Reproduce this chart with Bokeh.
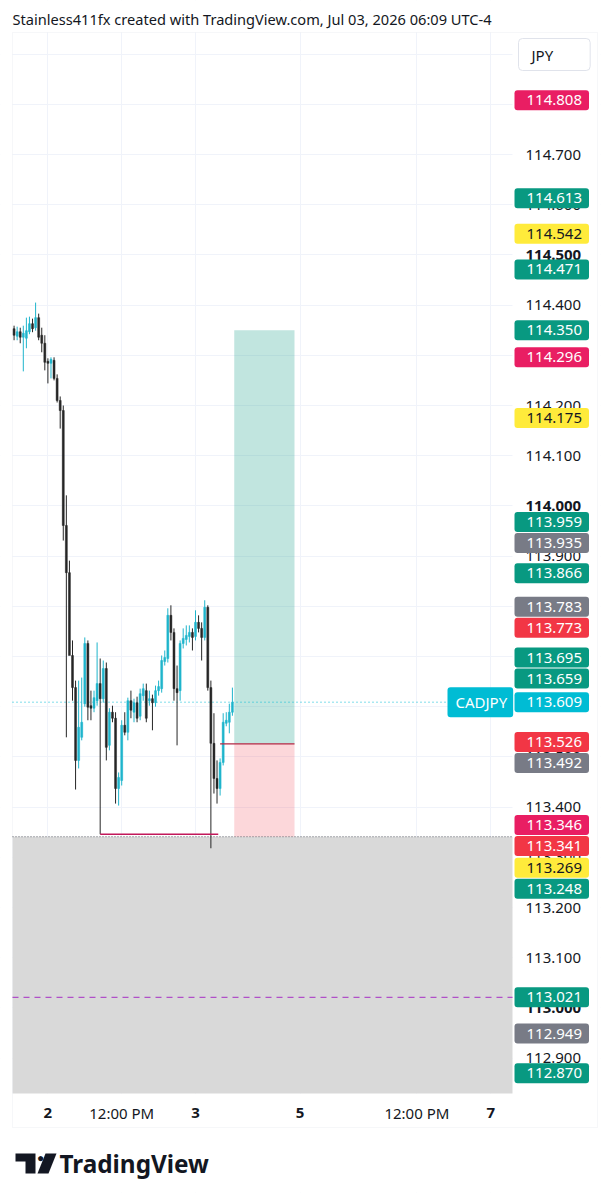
import pandas as pd
from bokeh.plotting import figure
from bokeh.models import (Label, BoxAnnotation, PolyAnnotation, FixedTicker,
                          NumeralTickFormatter, ColumnDataSource)
from bokeh.embed import file_html
from bokeh.resources import INLINE

# ---------------- data ----------------
title_text = "Stainless411fx created with TradingView.com, Jul 03, 2026 06:09 UTC-4"
brand = "TradingView"
symbol = "CADJPY"
currency = "JPY"
first_bar = "2026-07-01 18:30"
bar_freq = "30min"
session_ref = "2026-07-03 00:00"

opens = [114.353, 114.338, 114.347, 114.336, 114.334, 114.347, 114.363, 114.355, 114.375, 114.340,
         114.324, 114.288, 114.284, 114.290, 114.254, 114.210, 114.190, 113.961, 113.867, 113.702,
         113.638, 113.493, 113.539, 113.606, 113.726, 113.602, 113.597, 113.612, 113.646, 113.616,
         113.676, 113.523, 113.589, 113.577, 113.437, 113.453, 113.563, 113.549, 113.612, 113.589,
         113.608, 113.581, 113.622, 113.632, 113.612, 113.616, 113.608, 113.632, 113.636, 113.690,
         113.696, 113.782, 113.748, 113.636, 113.632, 113.726, 113.734, 113.740, 113.748, 113.740,
         113.768, 113.756, 113.738, 113.798, 113.638, 113.527, 113.457, 113.437, 113.489, 113.567,
         113.569, 113.589]
highs = [114.359, 114.357, 114.355, 114.359, 114.375, 114.377, 114.373, 114.405, 114.383, 114.355,
         114.340, 114.294, 114.296, 114.296, 114.262, 114.218, 114.200, 114.021, 113.891, 113.732,
         113.652, 113.652, 113.658, 113.738, 113.732, 113.632, 113.632, 113.728, 113.696, 113.692,
         113.688, 113.597, 113.602, 113.589, 113.469, 113.573, 113.589, 113.618, 113.632, 113.616,
         113.620, 113.636, 113.646, 113.646, 113.632, 113.624, 113.642, 113.652, 113.702, 113.712,
         113.796, 113.802, 113.756, 113.682, 113.732, 113.756, 113.762, 113.762, 113.756, 113.792,
         113.782, 113.768, 113.812, 113.802, 113.652, 113.587, 113.493, 113.497, 113.587, 113.589,
         113.606, 113.638]
lows = [114.330, 114.330, 114.324, 114.268, 114.314, 114.342, 114.346, 114.349, 114.330, 114.306,
        114.270, 114.244, 114.254, 114.250, 114.206, 114.154, 113.931, 113.539, 113.732, 113.612,
        113.435, 113.477, 113.533, 113.600, 113.573, 113.573, 113.589, 113.602, 113.346, 113.608,
        113.493, 113.513, 113.569, 113.407, 113.403, 113.443, 113.543, 113.533, 113.577, 113.569,
        113.569, 113.573, 113.612, 113.569, 113.602, 113.553, 113.600, 113.622, 113.628, 113.682,
        113.688, 113.732, 113.612, 113.523, 113.612, 113.716, 113.722, 113.728, 113.712, 113.732,
        113.748, 113.692, 113.732, 113.632, 113.318, 113.427, 113.407, 113.423, 113.483, 113.561,
        113.547, 113.582]
closes = [114.340, 114.347, 114.336, 114.344, 114.349, 114.363, 114.353, 114.375, 114.336, 114.324,
          114.286, 114.284, 114.292, 114.254, 114.210, 114.190, 113.961, 113.867, 113.702, 113.638,
          113.493, 113.559, 113.569, 113.726, 113.599, 113.597, 113.618, 113.646, 113.616, 113.676,
          113.519, 113.589, 113.577, 113.437, 113.459, 113.563, 113.549, 113.612, 113.593, 113.608,
          113.577, 113.626, 113.636, 113.577, 113.616, 113.608, 113.632, 113.640, 113.692, 113.698,
          113.782, 113.748, 113.636, 113.628, 113.726, 113.736, 113.742, 113.748, 113.738, 113.768,
          113.756, 113.738, 113.798, 113.638, 113.527, 113.457, 113.437, 113.489, 113.569, 113.573,
          113.589, 113.609]

# time axis (hours from Jul 3 00:00, weekend removed)
time_tick_hours = [-24, -12, 0, 17, 36, 48]
time_tick_labels = ["2", "12:00 PM", "3", "5", "12:00 PM", "7"]
time_tick_bold = [True, False, True, True, False, True]

price_ticks = [112.9, 113.0, 113.1, 113.2, 113.3, 113.4, 113.5, 113.6, 113.7, 113.8,
               113.9, 114.0, 114.1, 114.2, 114.3, 114.4, 114.5, 114.6, 114.7, 114.8, 114.9]
bold_price_ticks = [113.0, 114.0, 114.5]

tag_prices = [114.808, 114.613, 114.542, 114.471, 114.350, 114.296, 114.175, 113.959, 113.935,
              113.866, 113.783, 113.773, 113.695, 113.659, 113.609, 113.526, 113.492, 113.346,
              113.341, 113.269, 113.248, 113.021, 112.949, 112.870]
tag_kinds = ["pink", "green", "yellow", "green", "green", "pink", "yellow", "green", "gray",
             "green", "gray", "red", "green", "green", "cyan", "red", "gray", "pink",
             "red", "yellow", "green", "green", "gray", "green"]

current_price = 113.609
level_price = 113.346
level_start, level_end = -15.5, 3.7
zone_top = 113.341
dashed_level = 113.021
pos_entry, pos_target, pos_stop = 113.526, 114.350, 113.341
pos_start, pos_end = 6.3, 16.1
entry_line_start = 4.0

# ---------------- style / layout ----------------
KIND_COLORS = {"pink": "#e91e63", "green": "#089981", "yellow": "#ffeb3b", "gray": "#787b86",
               "red": "#f23645", "cyan": "#00bcd4"}
UP, DOWN = "#1fb5cc", "#262626"
TXT = "#131722"
BORDER = "#e0e3eb"
FONT = "Noto Sans"

# the frame covers the whole picture; pixel helpers map page pixels to data
FW, FH = 600, 1192
PX_PER_H, ZERO_PX = 6.15, 195.0
PX_PER_PRICE, ANCHOR_PRICE, ANCHOR_PX = 502.0, 114.7, 154.0
X0 = -ZERO_PX / PX_PER_H
X1 = X0 + FW / PX_PER_H
Y1 = ANCHOR_PRICE + ANCHOR_PX / PX_PER_PRICE
Y0 = Y1 - FH / PX_PER_PRICE

PANE_L, PANE_R, PANE_T, PANE_B = 12, 597, 32, 1127
PLOT_R, PLOT_B = 512, 1093


def xd(px):
    return X0 + px / PX_PER_H


def yd(py):
    return Y1 - py / PX_PER_PRICE


def py_of(price):
    return (Y1 - price) * PX_PER_PRICE


times = (pd.date_range(first_bar, periods=len(opens), freq=bar_freq)
         - pd.Timestamp(session_ref)) / pd.Timedelta(hours=1)

src = ColumnDataSource(dict(
    t=list(times), o=opens, h=highs, l=lows, c=closes,
    top=[max(a, b) for a, b in zip(opens, closes)],
    bottom=[min(a, b) for a, b in zip(opens, closes)],
    color=[UP if c >= o else DOWN for o, c in zip(opens, closes)],
))

p = figure(frame_width=FW, frame_height=FH, x_range=(X0, X1), y_range=(Y0, Y1),
           y_axis_location="right", output_backend="svg", toolbar_location=None,
           min_border_left=0, min_border_top=0, min_border_right=4, min_border_bottom=4,
           background_fill_color="white", border_fill_color="white",
           outline_line_color=None)

# axes: drawn from the frame edges back into the price / time scale areas
p.yaxis.ticker = FixedTicker(ticks=[t for t in price_ticks if t not in bold_price_ticks])
p.yaxis.formatter = NumeralTickFormatter(format="0.000")
p.xaxis.ticker = FixedTicker(ticks=[h for h, b in zip(time_tick_hours, time_tick_bold) if not b])
p.xaxis.major_label_overrides = {h: s for h, s, b in zip(time_tick_hours, time_tick_labels, time_tick_bold) if not b}
for ax in (p.xaxis[0], p.yaxis[0]):
    ax.major_label_text_font = FONT
    ax.major_label_text_font_size = "15px"
    ax.major_label_text_color = TXT
    ax.major_tick_line_color = None
    ax.minor_tick_line_color = None
    ax.major_tick_out = 0
    ax.major_tick_in = 0
    ax.axis_line_color = None
p.yaxis.major_label_standoff = 525 - FW
p.xaxis.major_label_standoff = 1102 - FH

p.ygrid.ticker = FixedTicker(ticks=price_ticks)
p.xgrid.ticker = FixedTicker(ticks=time_tick_hours)
p.grid.grid_line_color = "#f0f3fa"

# white masks so that the grid only shows inside the chart area
for l, r, t, b in [(0, PANE_L, 0, FH), (0, FW, 0, PANE_T), (PLOT_R, FW, 0, FH), (0, FW, PLOT_B, FH)]:
    p.add_layout(BoxAnnotation(left=xd(l), right=xd(r), top=yd(t), bottom=yd(b),
                               fill_color="white", fill_alpha=1, line_color=None, level="underlay"))

# gray zone below the level
p.add_layout(BoxAnnotation(left=xd(PANE_L), right=xd(PLOT_R), top=zone_top, bottom=yd(PLOT_B),
                           fill_color="#d9d9d9", fill_alpha=1, line_color=None, level="underlay"))
# position tool
p.add_layout(BoxAnnotation(left=pos_start, right=pos_end, top=pos_target, bottom=pos_entry,
                           fill_color="#089981", fill_alpha=0.25, line_color=None, level="underlay"))
p.add_layout(BoxAnnotation(left=pos_start, right=pos_end, top=pos_entry, bottom=pos_stop,
                           fill_color="#f23645", fill_alpha=0.2, line_color=None, level="underlay"))
# pane border
p.add_layout(BoxAnnotation(left=xd(PANE_L), right=xd(PANE_R), top=yd(PANE_T), bottom=yd(PANE_B),
                           fill_alpha=0, line_color=BORDER, line_width=1, level="underlay"))

# horizontal lines across the chart area
xl, xr = xd(PANE_L), xd(PLOT_R)
p.segment(x0=[xl], y0=[zone_top], x1=[xr], y1=[zone_top], line_color="#5d606b",
          line_dash="1 2", line_width=1)
p.segment(x0=[xl], y0=[dashed_level], x1=[xr], y1=[dashed_level], line_color="#b04fc8",
          line_dash="6 5", line_width=1.2)
p.segment(x0=[xl], y0=[current_price], x1=[xr], y1=[current_price], line_color="#00bcd4",
          line_dash="1 3", line_width=1)

# candles
p.segment(x0="t", y0="h", x1="t", y1="l", line_color="color", line_width=1, source=src)
p.vbar(x="t", width=0.32, top="top", bottom="bottom", fill_color="color",
       line_color="color", line_width=0.5, source=src)

# drawn horizontal lines
p.segment(x0=[level_start], y0=[level_price], x1=[level_end], y1=[level_price],
          line_color="#c2185b", line_width=1.5)
p.segment(x0=[entry_line_start], y0=[pos_entry], x1=[pos_end], y1=[pos_entry],
          line_color="#b22845", line_width=1.2)

# bold tick labels (round numbers / day starts)
for t in bold_price_ticks:
    p.add_layout(Label(x=xd(525), y=t, text=f"{t:.3f}", text_font=FONT, text_font_size="15px",
                       text_font_style="bold", text_color=TXT, text_baseline="middle"))
for h, s, b in zip(time_tick_hours, time_tick_labels, time_tick_bold):
    if b:
        p.add_layout(Label(x=h, y=yd(1112), text=s, text_font=FONT, text_font_size="15px",
                           text_font_style="bold", text_color=TXT, text_align="center",
                           text_baseline="middle"))

# price tags with collision avoidance
TAG_H = 21.0
ys = [py_of(v) for v in tag_prices]
order = sorted(range(len(ys)), key=lambda i: ys[i])
groups = []


def gtop(g):
    return sum(ys[k] for k in g) / len(g) - len(g) * TAG_H / 2


for i in order:
    groups.append([i])
    while len(groups) > 1 and gtop(groups[-2]) + len(groups[-2]) * TAG_H > gtop(groups[-1]):
        last = groups.pop()
        groups[-1] = groups[-1] + last
pos = {}
for g in groups:
    top = gtop(g)
    for k, i in enumerate(g):
        pos[i] = top + (k + 0.5) * TAG_H

for i, (v, kind) in enumerate(zip(tag_prices, tag_kinds)):
    p.add_layout(Label(x=xd(514), y=yd(pos[i]), text=f"{v:.3f}", text_font=FONT,
                       text_font_size="15px", text_color=TXT if kind == "yellow" else "white",
                       text_baseline="middle", background_fill_color=KIND_COLORS[kind],
                       padding=dict(left=12, right=7, top=5, bottom=5), border_radius=3))

# symbol tag on the last price line
p.add_layout(Label(x=xd(447), y=current_price, text=symbol, text_font=FONT, text_font_size="15px",
                   text_color="white", text_baseline="middle", background_fill_color="#00bcd4",
                   padding=dict(left=8, right=6, top=5, bottom=5), border_radius=3))

# currency box
p.add_layout(Label(x=xd(518), y=yd(54), text=currency, text_font=FONT, text_font_size="15px",
                   text_color=TXT, text_baseline="middle", background_fill_color="white",
                   border_line_color=BORDER, padding=dict(left=13, right=37, top=6, bottom=6),
                   border_radius=4))

# title
p.add_layout(Label(x=xd(12), y=yd(18), text=title_text, text_font=FONT, text_font_size="14.6px",
                   text_color=TXT, text_baseline="middle"))

# logo
p.add_layout(PolyAnnotation(xs=[xd(v) for v in (15, 35, 35, 25, 25, 15)],
                            ys=[yd(v) for v in (1153, 1153, 1173, 1173, 1161, 1161)],
                            fill_color=TXT, fill_alpha=1, line_color=None))
p.add_layout(Label(x=xd(40), y=yd(1157), text="\u25cf", text_font=FONT, text_font_size="12px",
                   text_color=TXT, text_align="center", text_baseline="middle"))
p.add_layout(PolyAnnotation(xs=[xd(v) for v in (45, 56, 48, 37)],
                            ys=[yd(v) for v in (1153, 1153, 1173, 1173)],
                            fill_color=TXT, fill_alpha=1, line_color=None))
p.add_layout(Label(x=xd(59), y=yd(1163), text=brand, text_font=FONT,
                   text_font_size="24.3px", text_font_style="bold", text_color=TXT,
                   text_baseline="middle"))

open("out.html", "w").write(file_html(p, INLINE))
